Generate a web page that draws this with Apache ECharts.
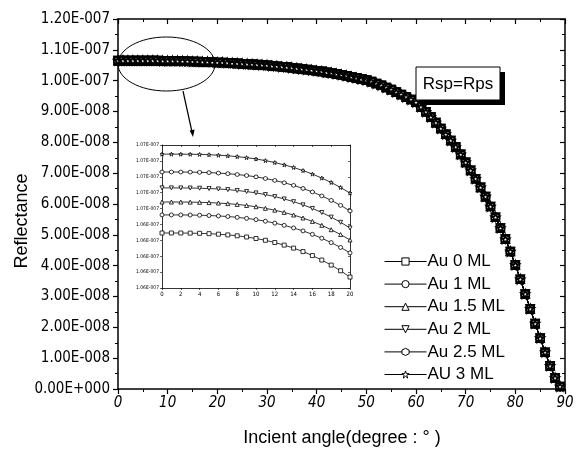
<!DOCTYPE html>
<html>
<head>
<meta charset="utf-8">
<script src="https://cdn.jsdelivr.net/npm/echarts@6/dist/echarts.min.js"></script>
<style>html,body{margin:0;padding:0;background:#fff}#c{width:577px;height:451px}</style>
</head>
<body>
<div id="c"></div>
<script>
// ---------------- DATA ----------------
var seriesNames = ['Au 0 ML','Au 1 ML','Au 1.5 ML','Au 2 ML','Au 2.5 ML','AU 3 ML'];
// Incident angle, degrees (main plot)
var mainAngles = [];
for (var a = 0; a <= 89; a++) mainAngles.push(a);
// Reflectance in units of 1e-8 (all six curves overlap at this scale)
var mainReflectance_e8 = [
 10.65,10.65,10.65,10.65,10.65,10.65,10.65,10.65,10.65,10.64,
 10.64,10.64,10.64,10.63,10.63,10.62,10.62,10.61,10.61,10.60,
 10.59,10.59,10.58,10.57,10.56,10.55,10.54,10.53,10.52,10.51,
 10.50,10.48,10.47,10.45,10.44,10.42,10.40,10.38,10.36,10.34,
 10.32,10.30,10.27,10.25,10.22,10.19,10.16,10.12,10.09,10.05,
 10.02,9.97,9.91,9.85,9.78,9.71,9.63,9.55,9.47,9.39,
 9.30,9.15,8.99,8.82,8.64,8.45,8.26,8.06,7.85,7.61,
 7.35,7.09,6.82,6.54,6.24,5.92,5.57,5.22,4.86,4.46,
 4.02,3.56,3.08,2.60,2.12,1.65,1.19,0.75,0.36,0.08
];
// Inset: angles 0..20, reflectance in units of 1e-7
var insetAngles = [0,1,2,3,4,5,6,7,8,9,10,11,12,13,14,15,16,17,18,19,20];
var insetAu0_e7  = [1.064585,1.064585,1.064584,1.064581,1.064576,1.064568,1.064555,1.064537,1.064514,1.064484,1.064446,1.064401,1.064345,1.064280,1.064204,1.064117,1.064017,1.063904,1.063776,1.063634,1.063475];
var insetAu1_e7  = [1.065040,1.065040,1.065039,1.065037,1.065032,1.065025,1.065014,1.064999,1.064979,1.064953,1.064921,1.064881,1.064834,1.064777,1.064712,1.064637,1.064551,1.064453,1.064343,1.064221,1.064084];
var insetAu15_e7 = [1.065365,1.065365,1.065364,1.065362,1.065357,1.065350,1.065339,1.065324,1.065304,1.065278,1.065246,1.065206,1.065159,1.065102,1.065037,1.064962,1.064876,1.064778,1.064668,1.064546,1.064409];
var insetAu2_e7  = [1.065720,1.065720,1.065719,1.065717,1.065712,1.065704,1.065693,1.065677,1.065655,1.065628,1.065594,1.065552,1.065502,1.065442,1.065374,1.065294,1.065203,1.065100,1.064984,1.064854,1.064710];
var insetAu25_e7 = [1.066120,1.066120,1.066119,1.066117,1.066112,1.066105,1.066093,1.066078,1.066057,1.066031,1.065998,1.065957,1.065908,1.065850,1.065784,1.065706,1.065618,1.065518,1.065406,1.065280,1.065140];
var insetAu3_e7  = [1.066570,1.066570,1.066569,1.066567,1.066562,1.066555,1.066543,1.066528,1.066507,1.066481,1.066448,1.066407,1.066358,1.066300,1.066234,1.066156,1.066068,1.065968,1.065856,1.065730,1.065590];
var insetSets = [insetAu0_e7, insetAu1_e7, insetAu15_e7, insetAu2_e7, insetAu25_e7, insetAu3_e7];

// ---------------- STYLE ----------------
var SYM = [
  'rect',
  'circle',
  'triangle',
  'path://M0,0 L10,0 L5,9 Z',
  'path://M5,0 L9.33,2.5 L9.33,7.5 L5,10 L0.67,7.5 L0.67,2.5 Z',
  'path://M5,0 L6.2,3.6 L10,3.6 L6.9,5.8 L8.1,9.5 L5,7.2 L1.9,9.5 L3.1,5.8 L0,3.6 L3.8,3.6 Z'
];
var NARROW = '"Liberation Sans Narrow","DejaVu Sans Condensed","Liberation Sans",Arial,sans-serif';
var SANS = '"Liberation Sans",Arial,sans-serif';

function sci(v){
  if (Math.abs(v) < 1e-20) return '0.00E+000';
  var s = v.toExponential(2).split('e');
  var e = parseInt(s[1], 10);
  var d = String(Math.abs(e)); while (d.length < 3) d = '0' + d;
  return s[0] + 'E' + (e < 0 ? '-' : '+') + d;
}

function pairs(xs, ys, unit){
  return xs.map(function(x, i){ return [x, ys[i] * unit]; });
}

var series = [];
seriesNames.forEach(function(n, i){
  series.push({
    name: n, type: 'line', xAxisIndex: 0, yAxisIndex: 0,
    data: pairs(mainAngles, mainReflectance_e8, 1e-8),
    symbol: SYM[i], symbolSize: 8, showSymbol: true,
    lineStyle: {color: '#000', width: 1},
    itemStyle: {color: '#fff', borderColor: '#000', borderWidth: 1.6},
    emphasis: {disabled: true}, animation: false, z: 3 + i
  });
});
seriesNames.forEach(function(n, i){
  series.push({
    name: n, type: 'line', xAxisIndex: 2, yAxisIndex: 2,
    data: pairs(insetAngles, insetSets[i], 1e-7),
    symbol: SYM[i], symbolSize: 4, showSymbol: true,
    lineStyle: {color: '#000', width: 0.8},
    itemStyle: {color: '#fff', borderColor: '#000', borderWidth: 0.8},
    emphasis: {disabled: true}, animation: false, z: 3
  });
});

var axLine = {show: true, onZero: false, lineStyle: {color: '#000', width: 1.5}};
var option = {
  animation: false,
  backgroundColor: '#fff',
  grid: [
    {left: 118, right: 12, top: 19, bottom: 62},
    {left: 162, top: 145, width: 188, height: 143}
  ],
  xAxis: [
    {gridIndex: 0, type: 'value', min: 0, max: 90, interval: 10, position: 'bottom',
     axisLine: axLine, splitLine: {show: false},
     axisTick: {show: true, inside: false, length: 5, lineStyle: {color: '#000', width: 1.2}},
     minorTick: {show: true, splitNumber: 2, length: 3, lineStyle: {color: '#000'}},
     axisLabel: {color: '#000', fontFamily: NARROW, fontStyle: 'italic', fontSize: 15, margin: 7}},
    {gridIndex: 0, type: 'value', min: 0, max: 90, interval: 10, position: 'top',
     axisLine: axLine, splitLine: {show: false},
     axisTick: {show: true, inside: true, length: 5, lineStyle: {color: '#000', width: 1.2}},
     minorTick: {show: true, splitNumber: 2, length: 3, lineStyle: {color: '#000'}},
     axisLabel: {show: false}},
    {gridIndex: 1, type: 'value', min: 0, max: 20, interval: 2, position: 'bottom',
     axisLine: {show: true, onZero: false, lineStyle: {color: '#000', width: 0.8}}, splitLine: {show: false},
     axisTick: {show: true, length: 2, lineStyle: {color: '#000', width: 0.6}},
     axisLabel: {color: '#000', fontFamily: NARROW, fontSize: 6, margin: 3}},
    {gridIndex: 1, type: 'value', min: 0, max: 20, interval: 2, position: 'top',
     axisLine: {show: true, onZero: false, lineStyle: {color: '#000', width: 0.8}}, splitLine: {show: false},
     axisTick: {show: true, inside: true, length: 2, lineStyle: {color: '#000', width: 0.6}},
     axisLabel: {show: false}}
  ],
  yAxis: [
    {gridIndex: 0, type: 'value', min: 0, max: 1.2e-7, interval: 1e-8, position: 'left',
     axisLine: axLine, splitLine: {show: false},
     axisTick: {show: true, inside: false, length: 5, lineStyle: {color: '#000', width: 1.2}},
     minorTick: {show: true, splitNumber: 2, length: 3, lineStyle: {color: '#000'}},
     axisLabel: {color: '#000', fontFamily: NARROW, fontSize: 15, margin: 8, formatter: sci}},
    {gridIndex: 0, type: 'value', min: 0, max: 1.2e-7, interval: 1e-8, position: 'right',
     axisLine: axLine, splitLine: {show: false},
     axisTick: {show: true, inside: true, length: 5, lineStyle: {color: '#000', width: 1.2}},
     minorTick: {show: true, splitNumber: 2, length: 3, lineStyle: {color: '#000'}},
     axisLabel: {show: false}},
    {gridIndex: 1, type: 'value', min: 1.0632e-7, max: 1.0668e-7, interval: 0.0004e-7, position: 'left',
     axisLine: {show: true, onZero: false, lineStyle: {color: '#000', width: 0.8}}, splitLine: {show: false},
     axisTick: {show: true, length: 2, lineStyle: {color: '#000', width: 0.6}},
     axisLabel: {color: '#000', fontFamily: NARROW, fontSize: 5, margin: 3, formatter: sci}},
    {gridIndex: 1, type: 'value', min: 1.0632e-7, max: 1.0668e-7, interval: 0.0004e-7, position: 'right',
     axisLine: {show: true, onZero: false, lineStyle: {color: '#000', width: 0.8}}, splitLine: {show: false},
     axisTick: {show: true, inside: true, length: 2, lineStyle: {color: '#000', width: 0.6}},
     axisLabel: {show: false}}
  ],
  legend: {
    data: seriesNames, orient: 'vertical', left: 379, top: 248,
    itemWidth: 42, itemHeight: 9, itemGap: 5.6,
    itemStyle: {color: '#fff', borderColor: '#000', borderWidth: 1},
    lineStyle: {color: '#000', width: 1},
    textStyle: {color: '#000', fontFamily: SANS, fontSize: 17, lineHeight: 17, padding: [0, 0, 0, -4]},
    inactiveColor: '#000', selectedMode: false
  },
  graphic: [
    {type: 'ellipse', shape: {cx: 166.5, cy: 64, rx: 48.5, ry: 27},
     style: {fill: 'none', stroke: '#000', lineWidth: 1}, z: 10},
    {type: 'line', shape: {x1: 183, y1: 91, x2: 192, y2: 132},
     style: {stroke: '#000', lineWidth: 1.2}, z: 10},
    {type: 'polygon', shape: {points: [[193, 137], [194.6, 129.4], [189.6, 130.5]]},
     style: {fill: '#000'}, z: 10},
    {type: 'rect', shape: {x: 421, y: 72, width: 84, height: 33}, style: {fill: '#000'}, z: 10},
    {type: 'rect', shape: {x: 416, y: 67, width: 84, height: 33},
     style: {fill: '#fff', stroke: '#000', lineWidth: 1}, z: 11},
    {type: 'text', x: 458, y: 84, z: 12,
     style: {text: 'Rsp=Rps', fill: '#000', font: '17px ' + SANS, align: 'center', verticalAlign: 'middle'}},
    {type: 'text', x: 22, y: 221, rotation: Math.PI / 2, z: 12,
     style: {text: 'Reflectance', fill: '#000', font: '18px ' + SANS, align: 'center', verticalAlign: 'middle'}},
    {type: 'text', x: 342, y: 438, z: 12,
     style: {text: 'Incient angle(degree : \u00B0 )', fill: '#000', font: '18px ' + SANS, align: 'center', verticalAlign: 'middle'}}
  ],
  series: series
};
var chart = echarts.init(document.getElementById('c'), null, {renderer: 'canvas'});
chart.setOption(option);
</script>
</body>
</html>
